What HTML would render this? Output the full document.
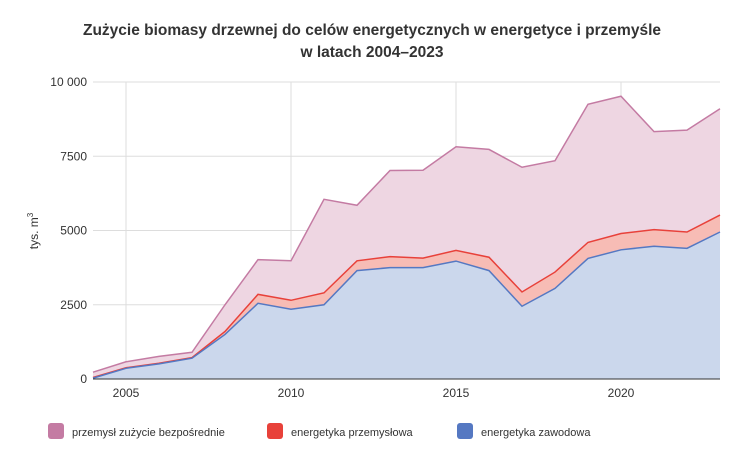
<!DOCTYPE html>
<html><head><meta charset="utf-8"><style>
body{margin:0;background:#fff;font-family:"Liberation Sans",sans-serif;}
svg text{font-family:"Liberation Sans",sans-serif;}
</style></head><body>
<svg id="s" width="744" height="454" xmlns="http://www.w3.org/2000/svg">
<rect width="744" height="454" fill="#fff"/>
<text x="372" y="35" text-anchor="middle" font-size="15.5" font-weight="bold" fill="#333">Zużycie biomasy drzewnej do celów energetycznych w energetyce i przemyśle</text>
<text x="372" y="57" text-anchor="middle" font-size="15.5" font-weight="bold" fill="#333">w latach 2004–2023</text>
<g id="g"></g>
<text transform="translate(38,231) rotate(-90)" text-anchor="middle" font-size="12" fill="#333">tys. m<tspan dy="-5" font-size="8">3</tspan></text>
<rect x="48" y="423" width="16" height="16" rx="3" fill="#c47ba3"/>
<text x="72" y="436" font-size="11" fill="#333">przemysł zużycie bezpośrednie</text>
<rect x="267" y="423" width="16" height="16" rx="3" fill="#e8413a"/>
<text x="291" y="436" font-size="11" fill="#333">energetyka przemysłowa</text>
<rect x="457" y="423" width="16" height="16" rx="3" fill="#5578c2"/>
<text x="481" y="436" font-size="11" fill="#333">energetyka zawodowa</text>
</svg>
<script>
var P=[230,580,760,900,2500,4020,3980,6050,5850,7020,7030,7820,7730,7130,7350,9250,9520,8330,8380,9100];
var R=[50,380,530,720,1600,2850,2650,2900,3980,4120,4070,4330,4100,2930,3600,4600,4900,5030,4950,5520];
var B=[30,360,510,700,1500,2550,2350,2500,3650,3750,3750,3970,3650,2450,3050,4060,4350,4470,4400,4950];
function X(i){return 93+i*33;}function Y(v){return 379-v*297/10000;}
var h='';
for(var v=2500;v<=10000;v+=2500)h+='<line x1="93" x2="720" y1="'+Y(v)+'" y2="'+Y(v)+'" stroke="#ddd"/>';
for(var yr=2005;yr<=2020;yr+=5){var x=X(yr-2004);h+='<line x1="'+x+'" x2="'+x+'" y1="82" y2="379" stroke="#ddd"/>';}
function area(a,f,s){var p='M'+X(0)+','+Y(0);var l='';a.forEach(function(v,i){p+=' L'+X(i)+','+Y(v);l+=(i?' L':'M')+X(i)+','+Y(v);});p+=' L'+X(19)+','+Y(0)+'Z';
return '<path d="'+p+'" fill="'+f+'"/><path d="'+l+'" fill="none" stroke="'+s+'" stroke-width="1.5"/>';}
h+=area(P,'#eed6e2','#c47ba3')+area(R,'#f7bcb5','#e8413a')+area(B,'#cbd7ec','#5578c2');
h+='<line x1="93" x2="720" y1="379" y2="379" stroke="#333"/>';
var labs=['0','2500','5000','7500','10 000'];
for(var k=0;k<5;k++)h+='<text x="87" y="'+(Y(k*2500)+4)+'" text-anchor="end" font-size="12" fill="#333">'+labs[k]+'</text>';
for(var yr=2005;yr<=2020;yr+=5)h+='<text x="'+X(yr-2004)+'" y="397" text-anchor="middle" font-size="12" fill="#333">'+yr+'</text>';
document.getElementById('g').innerHTML=h;
</script>
</body></html>
